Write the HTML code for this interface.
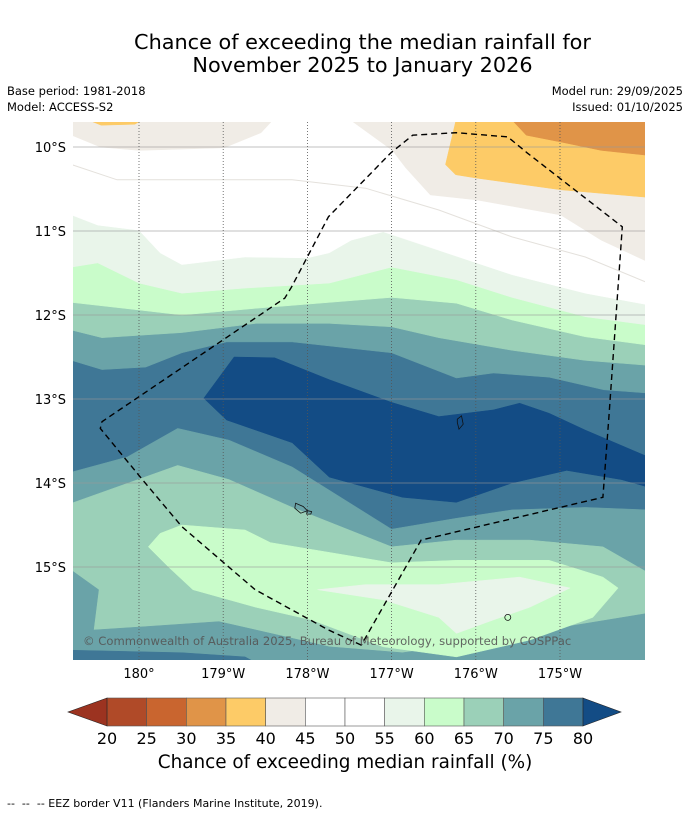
<!DOCTYPE html>
<html><head><meta charset="utf-8">
<style>
html,body{margin:0;padding:0;background:#fff;}
body{width:690px;height:816px;position:relative;overflow:hidden;font-family:"DejaVu Sans","Liberation Sans",sans-serif;color:#000;}
.t{position:absolute;white-space:nowrap;}
</style></head>
<body>
<div class="t" style="left:0;width:725px;top:31px;text-align:center;font-size:20.8px;line-height:23px;">Chance of exceeding the median rainfall for<br>November 2025 to January 2026</div>
<div class="t" style="left:7px;top:84px;font-size:11.5px;">Base period: 1981-2018</div>
<div class="t" style="left:7px;top:100px;font-size:11.5px;">Model: ACCESS-S2</div>
<div class="t" style="right:7px;top:84px;font-size:11.5px;">Model run: 29/09/2025</div>
<div class="t" style="right:7px;top:100px;font-size:11.5px;">Issued: 01/10/2025</div>
<svg id="svg" width="690" height="816" style="position:absolute;left:0;top:0" xmlns="http://www.w3.org/2000/svg">
<defs><clipPath id="mc"><rect x="73" y="122" width="572" height="538"/></clipPath></defs>
<g id="map" clip-path="url(#mc)"></g>
<g id="axes"></g>
<g id="cbar"></g>
</svg>
<div class="t" style="left:0;width:690px;top:752px;text-align:center;font-size:18.4px;">Chance of exceeding median rainfall (%)</div>
<div class="t" style="left:7px;top:797px;font-size:11px;">--&nbsp; --&nbsp; -- EEZ border V11 (Flanders Marine Institute, 2019).</div>
<script>
const levels=[20,25,30,35,40,45,50,55,60,65,70,75,80];
const levelColors=["#b04a28","#c9652f","#e09448","#fdcb67","#f0ece6","#ffffff","#ffffff","#e9f5ea","#c9fcca","#9bd0b8","#6aa3a8","#3f7796"];
const lowColor="#9c3320", highColor="#134c85";
const lonTicks=[180,181,182,183,184,185];
const lonLabels=["180°","179°W","178°W","177°W","176°W","175°W"];
const latTicks=[10,11,12,13,14,15];
const latLabels=["10°S","11°S","12°S","13°S","14°S","15°S"];
// contour boundaries [lonE, latS]
const north75=[[179.2,12.54],[179.56,12.65],[180.08,12.62],[180.51,12.45],[181.04,12.32],[181.82,12.32],[183,12.45],[183.77,12.75],[184.21,12.69],[184.87,12.74],[185.52,12.89],[186.05,12.93]];
const north70=[[179.2,12.18],[179.56,12.27],[180.51,12.21],[181.39,12.1],[182.26,12.1],[183,12.14],[183.56,12.27],[184.43,12.42],[185.3,12.54],[186.05,12.6]];
const north65=[[179.2,11.85],[180,11.94],[180.51,12],[181.39,11.92],[183,11.79],[183.77,11.86],[184.43,12.06],[185.3,12.26],[186.05,12.36]];
const north60=[[179.2,11.43],[179.51,11.38],[180,11.62],[180.51,11.74],[181.26,11.68],[182.26,11.62],[183,11.43],[183.77,11.58],[184.43,11.79],[185.3,12.02],[186.05,12.12]];
const north55=[[179.2,10.81],[179.51,10.93],[180,10.99],[180.25,11.26],[180.51,11.4],[181.26,11.31],[182,11.32],[182.26,11.26],[182.52,11.11],[182.9,11.01],[183.56,11.23],[184.43,11.52],[185.3,11.74],[186.05,11.88]];
const contour50=[[179.2,10.21],[179.74,10.39],[181.82,10.39],[182.69,10.49],[183.56,10.75],[184.43,11.07],[185.3,11.31],[186.05,11.62]];
const beigeLeft=[[179.2,9.7],[179.2,9.86],[179.54,10],[180,10.04],[181.01,10.01],[181.45,9.83],[181.57,9.7]];
const beigeRight=[[182.54,9.7],[183.01,10.04],[183.17,10.25],[183.46,10.57],[184.01,10.63],[185.01,10.81],[185.49,11.11],[186.05,11.37],[186.05,9.7]];
const orange35=[[183.76,9.7],[183.64,10.21],[183.76,10.33],[184.01,10.37],[185.01,10.51],[186.05,10.6],[186.05,9.7]];
const orange30=[[184.45,9.7],[184.6,9.86],[185.01,9.94],[185.49,10.04],[186.05,10.1],[186.05,9.7]];
const orangeLeft=[[179.45,9.7],[179.55,9.74],[179.95,9.73],[180,9.7]];
const above80=[[180.77,12.99],[181.13,12.5],[181.61,12.51],[182.26,12.77],[183,13.04],[183.56,13.21],[184.21,13.13],[184.52,13.05],[184.87,13.17],[185.3,13.37],[186.05,13.69],[186.05,14.05],[185.73,13.96],[185.08,13.85],[184.43,14],[183.77,14.23],[183.13,14.17],[182.26,13.93],[181.82,13.52],[181.04,13.25]];
const south75=[[179.2,13.87],[179.86,13.69],[180.46,13.35],[181.07,13.49],[181.82,13.81],[183,14.55],[183.77,14.42],[184.43,14.32],[185.3,14.29],[186.05,14.32]];
const south70=[[179.2,14.24],[180.46,13.79],[181.07,13.96],[181.82,14.29],[183,14.76],[183.77,14.68],[184.64,14.68],[185.51,14.76],[186.05,15.07]];
const southTeal=[[179.2,15.04],[179.52,15.27],[179.46,15.75],[180.08,15.71],[180.95,15.65],[181.39,15.75],[182.26,15.95],[183.13,16.02],[184.01,15.9],[185.08,15.71],[186.05,15.55]];
const southDark=[[179.2,15.99],[180.51,16.02],[181.26,16.07],[181.5,16.2]];
const mint60=[[180.11,14.76],[180.25,14.6],[180.51,14.5],[181.26,14.56],[181.56,14.71],[183,14.95],[183.77,14.92],[184.87,14.92],[185.51,15.12],[185.69,15.25],[185.39,15.6],[184.64,15.87],[183.77,16.07],[182.9,15.95],[182.05,15.63],[181.39,15.48],[180.64,15.27],[180.35,15]];
const pale55=[[182.12,15.27],[182.69,15.21],[183.56,15.21],[184.52,15.12],[185.12,15.25],[184.64,15.48],[184.21,15.63],[183.77,15.79],[183.56,15.6],[182.9,15.39]];
const eez=[[182.64,15.93],[182.25,15.75],[181.38,15.27],[180.51,14.52],[180.04,13.96],[179.54,13.35],[179.56,13.27],[181.73,11.8],[181.81,11.67],[182.25,10.83],[182.99,10.07],[183.25,9.86],[183.77,9.83],[184.38,9.88],[184.61,10.07],[185.74,10.95],[185.58,13.23],[185.51,14.17],[183.35,14.68],[182.64,15.93]];
const islands=[[[183.78,13.24],[183.83,13.2],[183.85,13.3],[183.8,13.36],[183.78,13.28]],[[181.86,14.24],[181.95,14.28],[182,14.33],[181.92,14.36],[181.85,14.3]],[[182,14.33],[182.05,14.34],[182.04,14.37],[181.99,14.37]]];

const X=lon=>139+(lon-180)*84.2;
const Y=lat=>147+(lat-10)*84;
const NS="http://www.w3.org/2000/svg";
const map=document.getElementById('map'),axes=document.getElementById('axes'),cb=document.getElementById('cbar');
function mk(tag,attrs,parent){const e=document.createElementNS(NS,tag);for(const k in attrs)e.setAttribute(k,attrs[k]);parent.appendChild(e);return e;}
function pts(a){return a.map(p=>X(p[0]).toFixed(1)+","+Y(p[1]).toFixed(1)).join(" ");}
function northOf(line,color,name){const a=line.concat([[186.2,9.5],[179.0,9.5]]);const e=mk('polygon',{points:pts(a),fill:color,stroke:color,'stroke-width':0.5},map);

}
function southOf(line,color,name){const a=line.concat([[186.2,16.5],[179.0,16.5]]);const e=mk('polygon',{points:pts(a),fill:color,stroke:color,'stroke-width':0.5},map);

}
function closed(line,color,name){const e=mk('polygon',{points:pts(line),fill:color,stroke:color,'stroke-width':0.5},map);

}
const base=mk('rect',{x:73,y:122,width:572,height:538,fill:levelColors[11]},map);


northOf(north75,levelColors[10],'region-70-75-north');
northOf(north70,levelColors[9],'region-65-70-north');
northOf(north65,levelColors[8],'region-60-65-north');
northOf(north60,levelColors[7],'region-55-60-north');
northOf(north55,"#ffffff",'region-45-55');
closed(beigeLeft,levelColors[4],'region-40-45-west');
closed(beigeRight,levelColors[4],'region-40-45-east');
closed(orange35,levelColors[3],'region-35-40');
closed(orange30,levelColors[2],'region-30-35');
closed(orangeLeft,levelColors[3],'region-35-40-west');
const c50=mk('polyline',{points:pts(contour50),fill:'none',stroke:'#e4e1dc','stroke-width':1},map);


closed(above80,highColor,'region-above-80');
southOf(south75,levelColors[10],'region-70-75-south');
southOf(south70,levelColors[9],'region-65-70-south');
southOf(southTeal,levelColors[10],'region-70-75-southwest');
southOf(southDark,levelColors[11],'region-75-80-south');
closed(mint60,levelColors[8],'region-60-65-south');
closed(pale55,levelColors[7],'region-55-60-south');
// gridlines
latTicks.forEach((v,i)=>{const l=mk('line',{x1:73,x2:645,y1:Y(v),y2:Y(v),stroke:'#999','stroke-width':0.8,'stroke-opacity':0.8},map);


const t=mk('text',{x:66,y:Y(v)+5,'text-anchor':'end','font-size':13,'font-family':'DejaVu Sans, Liberation Sans, sans-serif'},axes);t.textContent=latLabels[i];

});
lonTicks.forEach((v,i)=>{const l=mk('line',{x1:X(v),x2:X(v),y1:122,y2:660,stroke:'#555','stroke-width':0.8,'stroke-dasharray':'1,2'},map);


const t=mk('text',{x:X(v),y:678,'text-anchor':'middle','font-size':13,'font-family':'DejaVu Sans, Liberation Sans, sans-serif'},axes);t.textContent=lonLabels[i];

});
// EEZ
const ez=mk('polyline',{points:pts(eez),fill:'none',stroke:'#000','stroke-width':1.4,'stroke-dasharray':'6,4'},map);


islands.forEach(s=>{const e=mk('polygon',{points:pts(s),fill:'none',stroke:'#111','stroke-width':0.8},map);

});
const isl=mk('circle',{cx:X(184.38),cy:Y(15.6),r:3,fill:'none',stroke:'#111','stroke-width':0.8},map);


const cr=mk('text',{x:83,y:645,'font-size':11.6,fill:'#555','fill-opacity':0.9,'font-family':'DejaVu Sans, Liberation Sans, sans-serif'},map);
cr.textContent="© Commonwealth of Australia 2025, Bureau of Meteorology, supported by COSPPac";


// colorbar
const cx0=107,cx1=583,cy0=698,cy1=726,seg=(cx1-cx0)/(levels.length-1);
levelColors.forEach((c,i)=>{const r=mk('rect',{x:cx0+i*seg,y:cy0,width:seg,height:cy1-cy0,fill:c,stroke:'#555','stroke-width':0.6},cb);

});
const la=mk('polygon',{points:`${cx0},${cy0} ${cx0},${cy1} 68,${(cy0+cy1)/2}`,fill:lowColor,stroke:'#222','stroke-width':0.6},cb);


const ha=mk('polygon',{points:`${cx1},${cy0} ${cx1},${cy1} 621,${(cy0+cy1)/2}`,fill:highColor,stroke:'#222','stroke-width':0.6},cb);


levels.forEach((v,i)=>{const t=mk('text',{x:cx0+i*seg,y:744,'text-anchor':'middle','font-size':16,'font-family':'DejaVu Sans, Liberation Sans, sans-serif'},cb);t.textContent=v;

});
</script>
</body></html>
